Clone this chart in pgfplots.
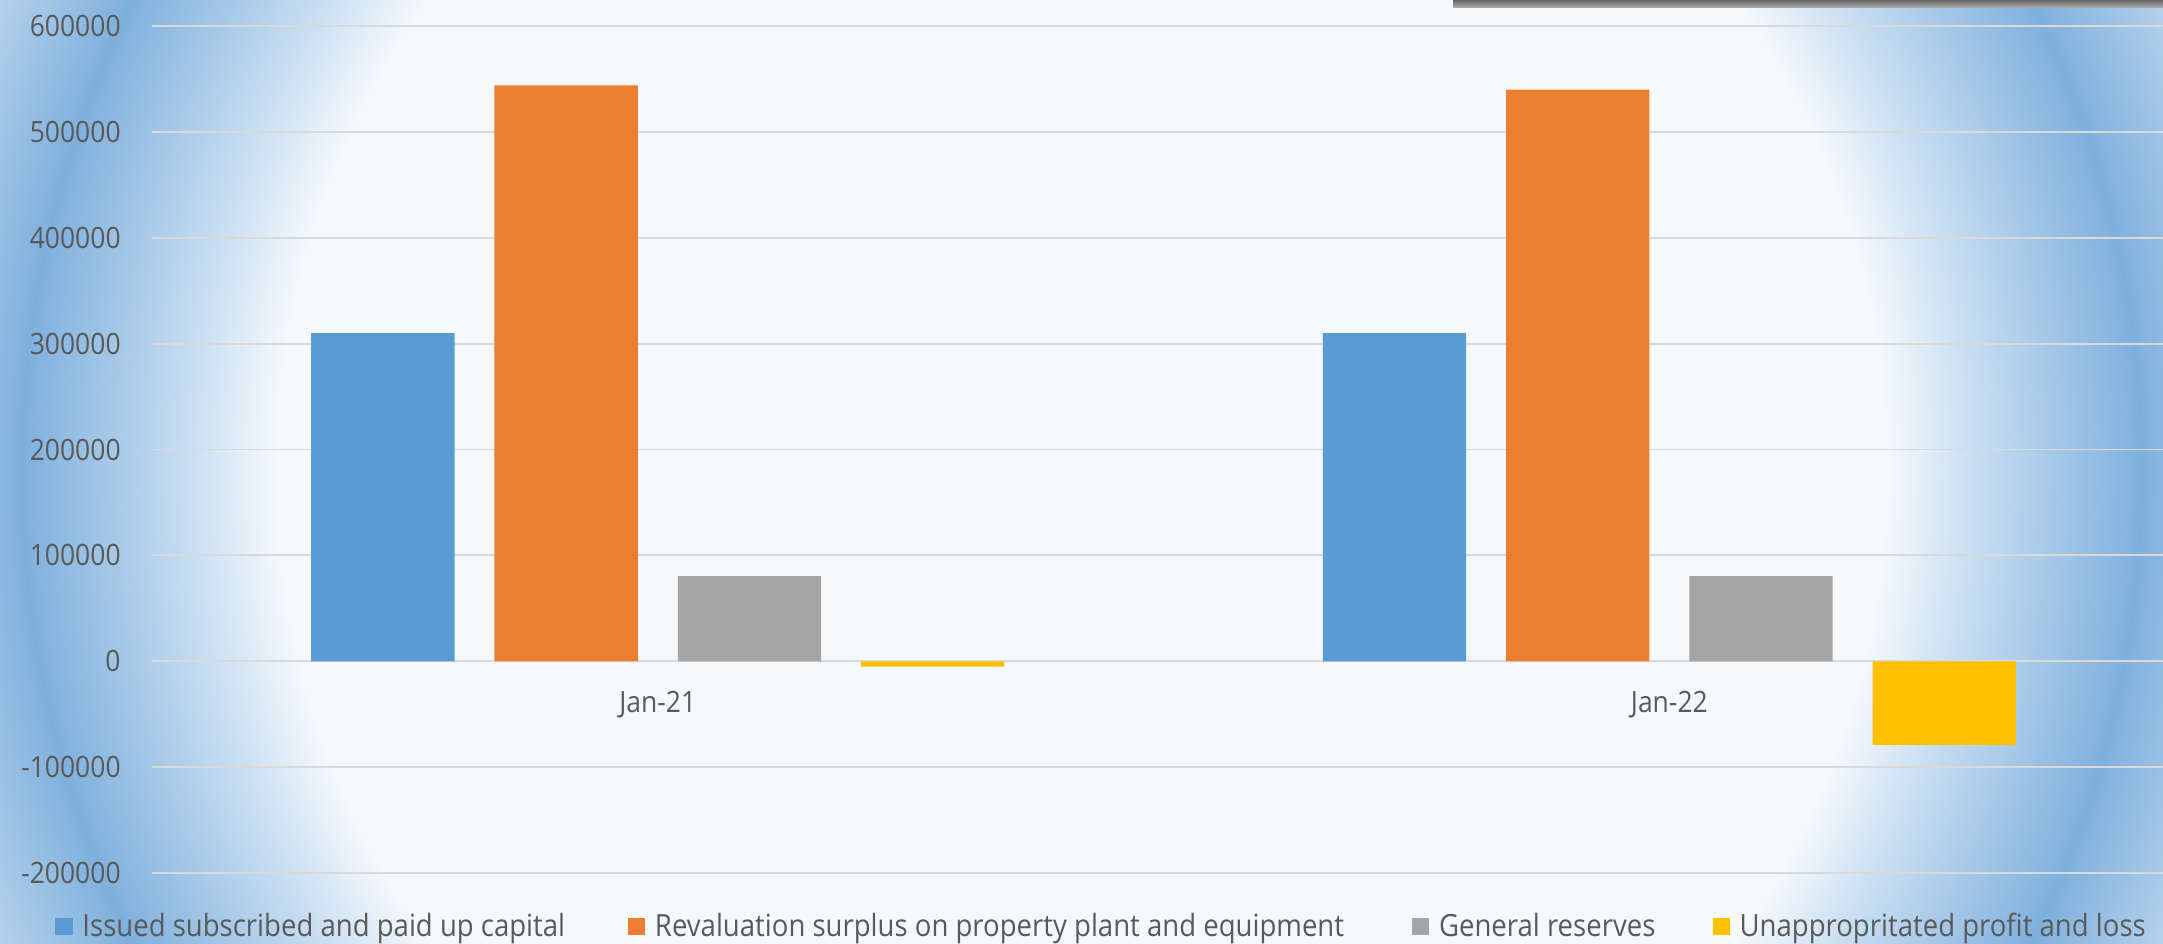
\documentclass[border=0pt]{standalone}
\usepackage{pgfplots}
\pgfplotsset{compat=1.18}
\usepackage{fontspec}
\setmainfont{Open Sans}[FakeStretch=0.9]
\definecolor{cblue}{HTML}{5B9BD5}
\definecolor{corange}{HTML}{ED7D31}
\definecolor{cgray}{HTML}{A5A5A5}
\definecolor{cyellow}{HTML}{FFC000}
\definecolor{txt}{HTML}{595959}
\definecolor{gridc}{HTML}{D9D9D9}
\definecolor{bgin}{RGB}{245,249,252}
\definecolor{bgl}{RGB}{200,222,242}
\definecolor{bgd}{RGB}{127,176,221}
\definecolor{bgo}{RGB}{192,217,239}
\pgfdeclareradialshading{bgshade}{\pgfpoint{0bp}{0bp}}{%
  color(0bp)=(bgin); color(400bp)=(bgin); color(445bp)=(bgl); color(528bp)=(bgd); color(600bp)=(bgo)}
\pgfplotsset{
  mybar/.style={ybar, bar width=0.1417, draw=none, fill=#1,
    legend image code/.code={\fill[#1] (0pt,-4.35pt) rectangle (8.7pt,4.35pt);}},
}
\begin{document}
\begin{tikzpicture}
\useasboundingbox (0,0) rectangle (1081.5pt,471.5pt);
\begin{scope}
\clip (0,0) rectangle (1081.5pt,471.5pt);
\node[inner sep=0pt, outer sep=0pt] at (540.75pt,235.75pt) {\pgfuseshading{bgshade}};
\end{scope}
\shade[top color=black!60, bottom color=black!30] (726.5pt,467.5pt) rectangle (1081.5pt,471.5pt);
\begin{axis}[
  at={(76pt,35pt)}, anchor=south west,
  width=1005.5pt, height=423.5pt, scale only axis,
  xmin=-0.5, xmax=1.488, ymin=-200000, ymax=600000,
  ytick={-200000,-100000,0,100000,200000,300000,400000,500000,600000},
  scaled y ticks=false,
  /pgf/number format/assume math mode=true,
  /pgf/number format/fixed,
  /pgf/number format/1000 sep={},
  xtick={0,1}, xticklabels={Jan-21,Jan-22},
  axis line style={draw=none},
  tick style={draw=none},
  major tick length=0pt,
  ymajorgrids,
  grid style={gridc, line width=0.9pt},
  tick label style={font=\fontsize{14.7}{17}\selectfont, text=txt},
  yticklabel style={anchor=east, inner sep=0pt, xshift=-15.5pt},
  xticklabel style={anchor=base, inner sep=0pt, yshift=80.4pt},
  legend columns=4,
  legend style={at={(-0.0482,-0.0630)}, anchor=west, draw=none, fill=none,
    inner sep=0pt, font=\fontsize{15.3}{17}\selectfont, text=txt,
    /tikz/every odd column/.append style={column sep=2.8pt},
    /tikz/column 2/.append style={column sep=29.4pt},
    /tikz/column 4/.append style={column sep=32pt},
    /tikz/column 6/.append style={column sep=26.6pt}},
  legend cell align=left,
]
\addplot[mybar=cblue, bar shift=-0.2718] coordinates {(0,310000) (1,310000)};
\addplot[mybar=corange, bar shift=-0.0906] coordinates {(0,544000) (1,540000)};
\addplot[mybar=cgray, bar shift=0.0906] coordinates {(0,80500) (1,80500)};
\addplot[mybar=cyellow, bar shift=0.2718] coordinates {(0,-5000) (1,-79000)};
\legend{Issued subscribed and paid up capital, Revaluation surplus on property plant and equipment, General reserves, Unappropritated profit and loss}
\end{axis}
\end{tikzpicture}
\end{document}
